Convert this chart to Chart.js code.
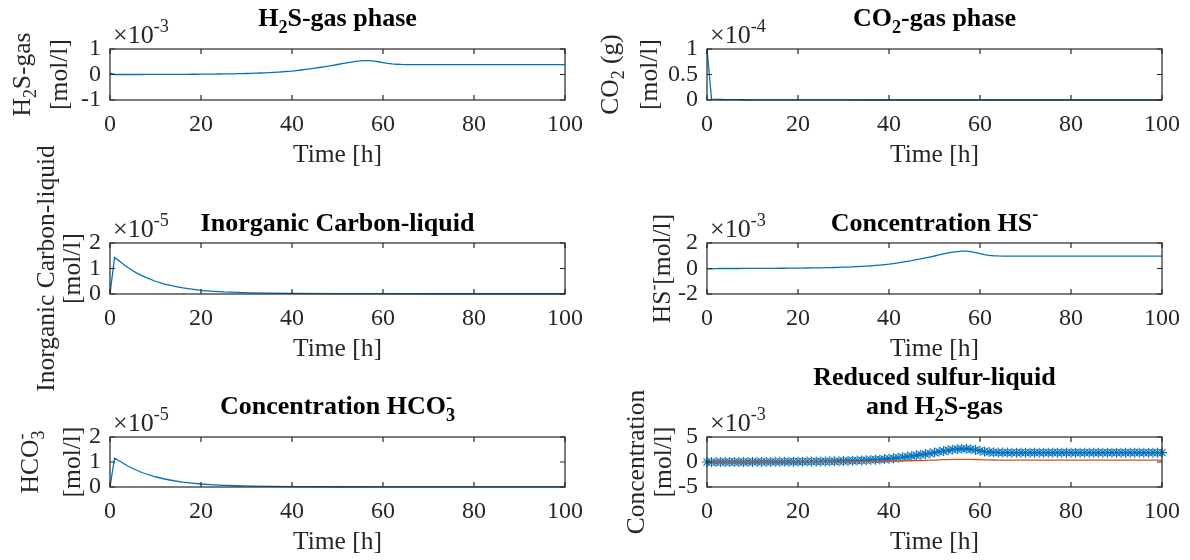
<!DOCTYPE html>
<html>
<head>
<meta charset="utf-8">
<script src="https://cdn.jsdelivr.net/npm/chart.js@4.4.1/dist/chart.umd.min.js"></script>
<style>
  html, body { margin: 0; padding: 0; background: #fff; }
  #fig { position: relative; width: 1190px; height: 560px; overflow: hidden; }
  #fig canvas { position: absolute; left: 0; top: 0; }
</style>
</head>
<body>
<div id="fig"></div>
<script>
// time grid of the sulfur species [h]
const hours = [0, 1, 2, 3, 4, 5, 6, 7, 8, 9, 10, 11, 12, 13, 14, 15, 16, 17, 18, 19, 20,
  21, 22, 23, 24, 25, 26, 27, 28, 29, 30, 31, 32, 33, 34, 35, 36, 37, 38, 39, 40,
  41, 42, 43, 44, 45, 46, 47, 48, 49, 50, 51, 52, 53, 54, 55, 56, 57, 58, 59, 60,
  61, 62, 63, 64, 65, 66, 67, 68, 69, 70, 71, 72, 73, 74, 75, 76, 77, 78, 79, 80,
  81, 82, 83, 84, 85, 86, 87, 88, 89, 90, 91, 92, 93, 94, 95, 96, 97, 98, 99, 100];

// H2S gas phase, x1e-3 mol/l
const h2sGas = [0.05, 0, 0, 0, 0, 0, 0, 0, 0.001, 0.001, 0.002,
  0.002, 0.003, 0.004, 0.005, 0.006, 0.007, 0.008, 0.009, 0.010, 0.012,
  0.014, 0.016, 0.018, 0.020, 0.022, 0.025, 0.028, 0.031, 0.035, 0.040,
  0.045, 0.051, 0.058, 0.066, 0.075, 0.085, 0.096, 0.108, 0.121, 0.135,
  0.155, 0.177, 0.200, 0.224, 0.249, 0.275, 0.302, 0.330, 0.360, 0.392,
  0.425, 0.457, 0.487, 0.512, 0.532, 0.544, 0.543, 0.527, 0.500, 0.466,
  0.436, 0.414, 0.401, 0.394, 0.391, 0.390, 0.390, 0.390, 0.390, 0.390,
  0.39, 0.39, 0.39, 0.39, 0.39, 0.39, 0.39, 0.39, 0.39, 0.39,
  0.39, 0.39, 0.39, 0.39, 0.39, 0.39, 0.39, 0.39, 0.39, 0.39,
  0.39, 0.39, 0.39, 0.39, 0.39, 0.39, 0.39, 0.39, 0.39, 0.39];

// HS- in liquid, x1e-3 mol/l
const hsMinus = [-0.03, -0.02, -0.01, 0, 0, 0, 0, 0, 0.002, 0.003, 0.005,
  0.006, 0.008, 0.010, 0.012, 0.015, 0.018, 0.020, 0.023, 0.026, 0.030,
  0.035, 0.040, 0.045, 0.050, 0.056, 0.063, 0.070, 0.078, 0.088, 0.100,
  0.112, 0.128, 0.145, 0.165, 0.187, 0.212, 0.240, 0.270, 0.303, 0.340,
  0.39, 0.44, 0.50, 0.56, 0.62, 0.69, 0.755, 0.825, 0.90, 0.98,
  1.06, 1.14, 1.22, 1.28, 1.33, 1.36, 1.36, 1.32, 1.25, 1.165,
  1.09, 1.035, 1.0, 0.983, 0.975, 0.972, 0.97, 0.97, 0.97, 0.97,
  0.97, 0.97, 0.97, 0.97, 0.97, 0.97, 0.97, 0.97, 0.97, 0.97,
  0.97, 0.97, 0.97, 0.97, 0.97, 0.97, 0.97, 0.97, 0.97, 0.97,
  0.97, 0.97, 0.97, 0.97, 0.97, 0.97, 0.97, 0.97, 0.97, 0.97];

// reduced sulfur in liquid, x1e-3 mol/l
const reducedSulfur = [0, -0.02, -0.01, 0, 0, 0, 0, 0, 0.004, 0.006, 0.010,
  0.012, 0.016, 0.020, 0.024, 0.029, 0.034, 0.039, 0.044, 0.050, 0.058,
  0.068, 0.077, 0.087, 0.097, 0.108, 0.122, 0.135, 0.150, 0.170, 0.193,
  0.216, 0.247, 0.280, 0.318, 0.360, 0.410, 0.463, 0.520, 0.585, 0.656,
  0.75, 0.85, 0.965, 1.08, 1.20, 1.33, 1.46, 1.59, 1.74, 1.89,
  2.05, 2.20, 2.35, 2.47, 2.57, 2.63, 2.63, 2.55, 2.41, 2.25,
  2.10, 2.00, 1.93, 1.90, 1.885, 1.88, 1.875, 1.875, 1.875, 1.875,
  1.875, 1.875, 1.875, 1.875, 1.875, 1.875, 1.875, 1.875, 1.875, 1.875,
  1.875, 1.875, 1.875, 1.875, 1.875, 1.875, 1.875, 1.875, 1.875, 1.875,
  1.875, 1.875, 1.875, 1.875, 1.875, 1.875, 1.875, 1.875, 1.875, 1.875];

// time grid of the carbon species [h]
const carbonHours = [0, 1, 2, 3, 4, 5, 6, 7, 8, 10, 12, 14, 16, 18, 20, 22, 25, 28, 31, 35, 40, 50, 60, 70, 80, 90, 100];
// CO2 gas, x1e-4 mol/l
const co2Gas = [1.0, 0.015, 0.012, 0.010, 0.009, 0.008, 0.007, 0.006, 0.005, 0.004, 0.003, 0.0025, 0.002, 0.0015,
  0.001, 0.001, 0.0008, 0.0006, 0.0005, 0.0004, 0.0003, 0.0002, 0.0001, 0.0001, 0.0001, 0.0001, 0.0001];
// inorganic carbon in liquid, x1e-5 mol/l
const inorganicCarbon = [0, 1.43, 1.30, 1.16, 1.03, 0.91, 0.81, 0.72, 0.64, 0.50, 0.39, 0.31, 0.24, 0.19,
  0.145, 0.115, 0.08, 0.06, 0.045, 0.032, 0.022, 0.014, 0.011, 0.01, 0.01, 0.01, 0.01];
// HCO3-, x1e-5 mol/l
const bicarbonate = [0, 1.15, 1.05, 0.94, 0.83, 0.74, 0.66, 0.58, 0.52, 0.41, 0.32, 0.25, 0.195, 0.155,
  0.12, 0.095, 0.068, 0.05, 0.037, 0.026, 0.018, 0.011, 0.008, 0.007, 0.007, 0.007, 0.007];

const timeTicks = [0, 100, 20]; // min, max, step

const FONT = '"Liberation Serif", "Times New Roman", serif';
const INK = '#262626';
const BLUE = '#0072BD';
const ORANGE = '#D95319';

// box = [left, top, right, bottom] of the plot area; yTitleX = baseline x of each y-label line
const panels = [
  { box: [110, 49, 565, 100], title: ['H_2S-gas phase'], yTitle: ['H_2S-gas', '[mol/l]'], yTitleX: [30, 67],
    exponent: '\u00d710^{-3}', yRange: [-1, 1, 1], series: [{ x: hours, y: h2sGas, color: BLUE }] },
  { box: [707, 49, 1162, 100], title: ['CO_2-gas phase'], yTitle: ['CO_2 (g)', '[mol/l]'], yTitleX: [618, 657],
    exponent: '\u00d710^{-4}', yRange: [0, 1, 0.5], series: [{ x: carbonHours, y: co2Gas, color: BLUE }] },
  { box: [110, 243, 565, 294], title: ['Inorganic Carbon-liquid'], yTitle: ['Inorganic Carbon-liquid', '[mol/l]'], yTitleX: [54, 80],
    exponent: '\u00d710^{-5}', yRange: [0, 2, 1], series: [{ x: carbonHours, y: inorganicCarbon, color: BLUE }] },
  { box: [707, 243, 1162, 294], title: ['Concentration HS^-'], yTitle: ['HS^-[mol/l]'], yTitleX: [670],
    exponent: '\u00d710^{-3}', yRange: [-2, 2, 2], series: [{ x: hours, y: hsMinus, color: BLUE }] },
  { box: [110, 437, 565, 487], title: ['Concentration HCO_3^-'], yTitle: ['HCO_3^-', '[mol/l]'], yTitleX: [38, 80],
    exponent: '\u00d710^{-5}', yRange: [0, 2, 1], series: [{ x: carbonHours, y: bicarbonate, color: BLUE }] },
  { box: [707, 437, 1162, 487], title: ['Reduced sulfur-liquid', 'and H_2S-gas'], yTitle: ['Concentration', '[mol/l]'], yTitleX: [644, 671],
    exponent: '\u00d710^{-3}', yRange: [-5, 5, 5],
    series: [{ x: hours, y: reducedSulfur, color: BLUE, marker: true }, { x: hours, y: h2sGas, color: ORANGE }] }
];

// tiny TeX-like parser: _x / ^x / _{..} / ^{..}; a sub followed by a sup is stacked
function parseTex(str) {
  const out = [];
  let i = 0;
  while (i < str.length) {
    const c = str[i];
    if (c === '_' || c === '^') {
      let arg;
      if (str[i + 1] === '{') {
        const j = str.indexOf('}', i);
        arg = str.slice(i + 2, j);
        i = j + 1;
      } else {
        arg = str[i + 1];
        i += 2;
      }
      const key = c === '_' ? 'sub' : 'sup';
      const last = out[out.length - 1];
      if (last && last.kind === 'script' && !last[key]) last[key] = arg;
      else out.push({ kind: 'script', [key]: arg });
    } else {
      const last = out[out.length - 1];
      if (last && last.kind === 'text') last.text += c;
      else out.push({ kind: 'text', text: c });
      i++;
    }
  }
  return out;
}

function drawRich(ctx, str, x, y, size, weight, align) {
  const parts = parseTex(str);
  const big = `${weight} ${size}px ${FONT}`;
  const small = `${weight} ${size * 0.7}px ${FONT}`;
  const widths = parts.map(p => {
    if (p.kind === 'text') { ctx.font = big; return ctx.measureText(p.text).width; }
    ctx.font = small;
    return Math.max(p.sub ? ctx.measureText(p.sub).width : 0, p.sup ? ctx.measureText(p.sup).width : 0);
  });
  const total = widths.reduce((a, b) => a + b, 0);
  let cx = align === 'center' ? x - total / 2 : x;
  ctx.textAlign = 'left';
  ctx.textBaseline = 'alphabetic';
  parts.forEach((p, k) => {
    if (p.kind === 'text') {
      ctx.font = big;
      ctx.fillText(p.text, cx, y);
    } else {
      ctx.font = small;
      if (p.sub) ctx.fillText(p.sub, cx, y + size * 0.25);
      if (p.sup) ctx.fillText(p.sup, cx, y - size * 0.42);
    }
    cx += widths[k];
  });
}

function matlabAxes(p) {
  return {
    id: 'matlabAxes',
    afterDraw(chart) {
      const ctx = chart.ctx;
      const { left, top, right, bottom } = chart.chartArea;
      const xs = chart.scales.x, ys = chart.scales.y;
      ctx.save();
      // box and inward ticks
      ctx.strokeStyle = INK;
      ctx.lineWidth = 1.2;
      ctx.strokeRect(left, top, right - left, bottom - top);
      ctx.beginPath();
      xs.ticks.forEach(t => {
        const px = xs.getPixelForValue(t.value);
        ctx.moveTo(px, bottom); ctx.lineTo(px, bottom - 5);
        ctx.moveTo(px, top); ctx.lineTo(px, top + 5);
      });
      ys.ticks.forEach(t => {
        const py = ys.getPixelForValue(t.value);
        ctx.moveTo(left, py); ctx.lineTo(left + 5, py);
        ctx.moveTo(right, py); ctx.lineTo(right - 5, py);
      });
      ctx.stroke();

      // title
      ctx.fillStyle = '#000';
      const cxm = (left + right) / 2;
      let ty = top - (p.title[p.title.length - 1].includes('_') ? 23 : 12);
      for (let i = p.title.length - 1; i >= 0; i--) {
        drawRich(ctx, p.title[i], cxm, ty, 26, 'bold', 'center');
        ty -= 29;
      }

      ctx.fillStyle = INK;
      // exponent
      drawRich(ctx, p.exponent, left + 3, top - 6, 26, 'normal', 'left');
      // x label
      drawRich(ctx, 'Time [h]', cxm, bottom + 62, 25.5, 'normal', 'center');
      // y label
      const cym = (top + bottom) / 2;
      p.yTitle.forEach((line, i) => {
        ctx.save();
        ctx.translate(p.yTitleX[i], cym);
        ctx.rotate(-Math.PI / 2);
        drawRich(ctx, line, 0, 0, 25.5, 'normal', 'center');
        ctx.restore();
      });
      ctx.restore();
    }
  };
}

const fig = document.getElementById('fig');
panels.forEach(p => {
  const canvas = document.createElement('canvas');
  canvas.width = 1190;
  canvas.height = 560;
  fig.appendChild(canvas);
  const [L, T, R, B] = p.box;
  const tickFont = { family: FONT, size: 24 };
  new Chart(canvas, {
    type: 'line',
    data: {
      datasets: p.series.map((s, i) => ({
        data: s.x.map((t, k) => ({ x: t, y: s.y[k] })),
        borderColor: s.color,
        borderWidth: 1.3,
        pointRadius: s.marker ? 5 : 0,
        pointStyle: 'star',
        pointBorderColor: s.color,
        pointBorderWidth: 1.1,
        fill: false,
        tension: 0,
        clip: s.marker ? false : 2,
        order: p.series.length - i
      }))
    },
    options: {
      responsive: false,
      animation: false,
      devicePixelRatio: 1,
      events: [],
      layout: { padding: { left: L - 60, top: T, right: 1190 - R, bottom: 560 - B - 40 } },
      plugins: { legend: { display: false }, tooltip: { enabled: false }, title: { display: false } },
      scales: {
        x: {
          type: 'linear', min: timeTicks[0], max: timeTicks[1],
          afterFit: s => { s.height = 40; },
          grid: { display: false, drawTicks: false }, border: { display: false },
          ticks: { stepSize: timeTicks[2], padding: 10, color: INK, font: tickFont, maxRotation: 0, autoSkip: false,
            callback: v => String(v) }
        },
        y: {
          type: 'linear', min: p.yRange[0], max: p.yRange[1],
          afterFit: s => { s.width = 60; },
          grid: { display: false, drawTicks: false }, border: { display: false },
          ticks: { stepSize: p.yRange[2], padding: 9, color: INK, font: tickFont, autoSkip: false,
            callback: v => String(v) }
        }
      }
    },
    plugins: [matlabAxes(p)]
  });
});
</script>
</body>
</html>
